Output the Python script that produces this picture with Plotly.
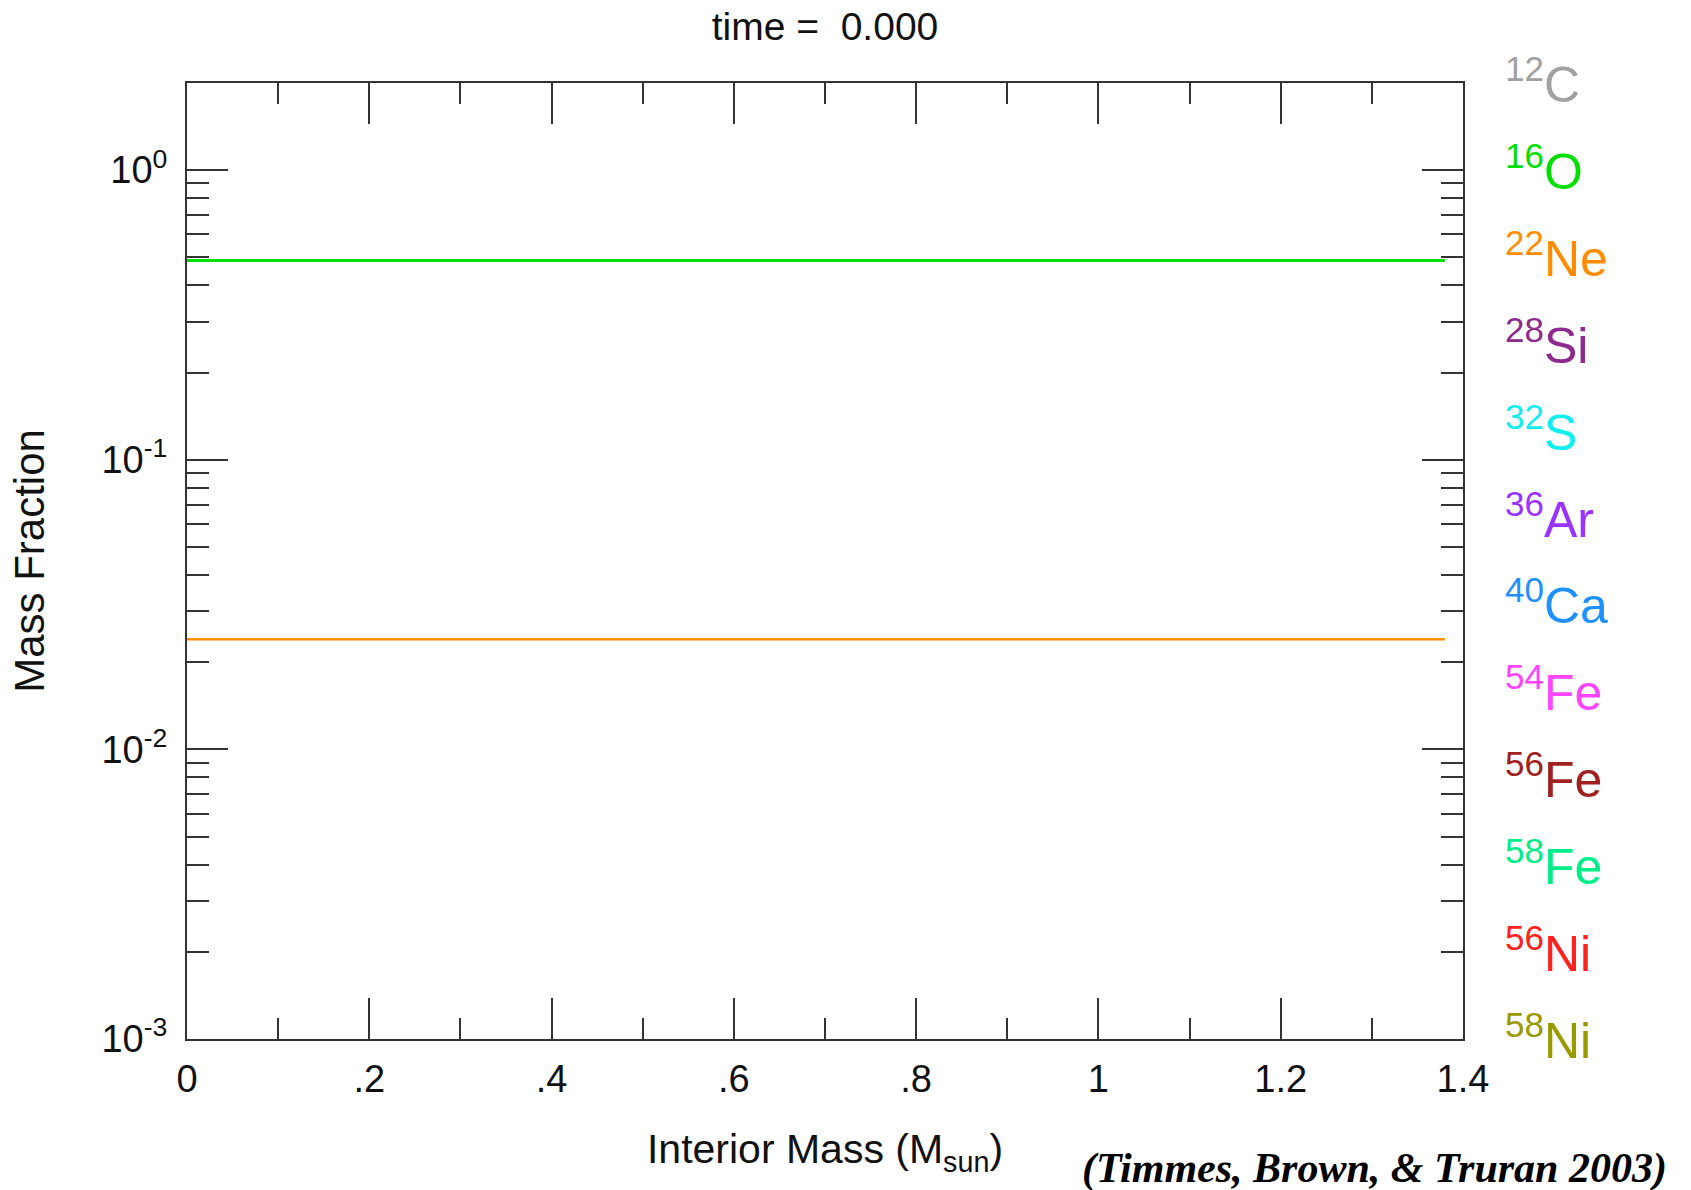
import plotly.graph_objects as go

# Interior mass grid (solar masses) and initial mass fractions
mass = [0.0, 1.38]
x_c12 = [0.4875, 0.4875]
x_o16 = [0.4875, 0.4875]
x_ne22 = [0.024, 0.024]

# Isotope legend entries: (mass number, symbol, colour)
iso_mass = ["12", "16", "22", "28", "32", "36", "40", "54", "56", "58", "56", "58"]
iso_sym = ["C", "O", "Ne", "Si", "S", "Ar", "Ca", "Fe", "Fe", "Fe", "Ni", "Ni"]
iso_color = ["#a0a0a0", "#00e000", "#ff8c00", "#8e2a8e", "#10eef0", "#9a33ff",
             "#1e90ff", "#ff44ff", "#a02020", "#00ee88", "#ff2020", "#999900"]

x_tickvals = [0, 0.2, 0.4, 0.6, 0.8, 1.0, 1.2, 1.4]
x_ticktext = ["0", ".2", ".4", ".6", ".8", "1", "1.2", "1.4"]
y_tickvals = [1e-3, 1e-2, 1e-1, 1]
y_ticktext = ["10<sup>-3</sup>", "10<sup>-2</sup>", "10<sup>-1</sup>", "10<sup>0</sup>"]
y_minor = [m * 10 ** e for e in (-3, -2, -1, 0) for m in range(2, 10)]

FONT = "Liberation Sans, Arial, Helvetica, sans-serif"

fig = go.Figure()
fig.add_trace(go.Scatter(x=mass, y=x_c12, mode="lines",
                         line=dict(color=iso_color[0], width=3), showlegend=False))
fig.add_trace(go.Scatter(x=mass, y=x_o16, mode="lines",
                         line=dict(color=iso_color[1], width=3), showlegend=False))
fig.add_trace(go.Scatter(x=mass, y=x_ne22, mode="lines",
                         line=dict(color=iso_color[2], width=2.5), showlegend=False))

axis_common = dict(
    showgrid=False, zeroline=False, showline=True, linecolor="#333333", linewidth=2,
    mirror="allticks", ticks="inside", tickcolor="#333333", tickwidth=2, ticklen=41,
    tickfont=dict(family=FONT, size=38, color="#111111"),
)

fig.update_xaxes(
    range=[0, 1.4], tickvals=x_tickvals, ticktext=x_ticktext, ticklabelstandoff=5,
    minor=dict(dtick=0.1, ticks="inside", ticklen=21, tickwidth=2, tickcolor="#333333",
               showgrid=False),
    title=dict(text="Interior Mass (M<sub>sun</sub>)",
               font=dict(family=FONT, size=41, color="#111111"), standoff=36),
    **axis_common,
)
fig.update_yaxes(
    type="log", range=[-3, 0.301], tickvals=y_tickvals, ticktext=y_ticktext,
    ticklabelstandoff=10,
    minor=dict(tickvals=y_minor, ticks="inside", ticklen=22, tickwidth=2,
               tickcolor="#333333", showgrid=False),
    title=dict(text="Mass Fraction",
               font=dict(family=FONT, size=42, color="#111111"), standoff=44),
    **axis_common,
)

# Isotope labels down the right-hand side
plot_top, plot_bottom, first_center, spacing = 83, 1039, 81, 86.9
annotations = []
for i, (a, s, c) in enumerate(zip(iso_mass, iso_sym, iso_color)):
    yc = first_center + spacing * i
    annotations.append(dict(
        x=1.031, y=(plot_bottom - yc) / (plot_bottom - plot_top),
        xref="paper", yref="paper", xanchor="left", yanchor="middle",
        text=f"<sup>{a}</sup>{s}", showarrow=False,
        font=dict(family=FONT, size=50, color=c),
    ))

# Reference citation, bottom right
annotations.append(dict(
    x=(1669 - 187) / 1276, y=(1039 - 1168) / 956, xref="paper", yref="paper",
    xanchor="right", yanchor="middle", showarrow=False,
    text="<b><i>(Timmes, Brown, &amp; Truran 2003)</i></b>",
    font=dict(family="Liberation Serif, Times New Roman, serif", size=42, color="#000000"),
))

fig.update_layout(
    width=1691, height=1190,
    margin=dict(l=187, r=228, t=83, b=151),
    paper_bgcolor="white", plot_bgcolor="white",
    title=dict(text="time =  0.000", x=0.5, xref="paper", y=1 - 26 / 1190,
               yanchor="middle", font=dict(family=FONT, size=39, color="#111111")),
    annotations=annotations,
)

fig.write_html("out.html")
